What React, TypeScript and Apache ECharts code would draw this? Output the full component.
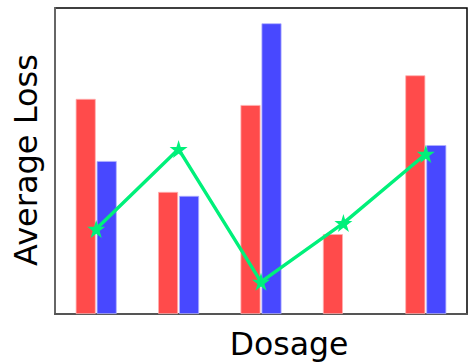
import React, { useEffect, useRef } from "react";
import * as echarts from "echarts";

const categories = ["A", "B", "C", "D", "E"];
const redValues = [70.3, 39.9, 68.3, 26.1, 78.0];
const blueValues: (number | null)[] = [50.0, 38.6, 95.0, null, 55.2];
const lineValues = [27.8, 53.9, 10.5, 29.7, 52.3];

const STAR = "path://M50,0 L61.2,34.5 L97.6,34.5 L68.2,55.9 L79.4,90.5 L50,69.1 L20.6,90.5 L31.8,55.9 L2.4,34.5 L38.8,34.5 Z";

export default function App() {
  const ref = useRef<HTMLDivElement>(null);
  useEffect(() => {
    const chart = echarts.init(ref.current!, undefined, { renderer: "svg" });
    chart.setOption({
      animation: false,
      backgroundColor: "#ffffff",
      grid: {
        left: 55,
        top: 8,
        width: 412,
        height: 306,
        show: true,
        borderColor: "#000",
        borderWidth: 1.5,
        backgroundColor: "transparent",
      },
      xAxis: {
        type: "category",
        data: categories,
        axisLine: { show: true, lineStyle: { color: "#555", width: 2 } },
        axisTick: { show: false },
        axisLabel: { show: false },
        splitLine: { show: false },
      },
      yAxis: {
        type: "value",
        min: 0,
        max: 100,
        axisLine: { show: true, lineStyle: { color: "#666", width: 2 } },
        axisTick: { show: false },
        axisLabel: { show: false },
        splitLine: { show: false },
      },
      graphic: [
        {
          type: "text",
          x: 289,
          y: 344,
          style: {
            text: "Dosage",
            font: "31.5px 'DejaVu Sans'",
            fill: "#000",
            textAlign: "center",
            textVerticalAlign: "middle",
          },
        },
        {
          type: "text",
          x: 26,
          y: 160,
          rotation: Math.PI / 2,
          style: {
            text: "Average Loss",
            font: "32px 'DejaVu Sans'",
            fill: "#000",
            textAlign: "center",
            textVerticalAlign: "middle",
          },
        },
      ],
      series: [
        {
          type: "bar",
          data: redValues,
          barWidth: 20,
          barGap: "5%",
          itemStyle: { color: "#ff4b4b", borderColor: "#ffb0b0", borderWidth: 0.8 },
        },
        {
          type: "bar",
          data: blueValues,
          barWidth: 20,
          barGap: "5%",
          itemStyle: { color: "#4848ff", borderColor: "#b0b0ff", borderWidth: 0.8 },
        },
        {
          type: "line",
          data: lineValues,
          z: 5,
          symbol: STAR,
          symbolSize: 18,
          lineStyle: { color: "#00f07a", width: 3.4 },
          itemStyle: { color: "#00f07a" },
        },
      ],
    });
    return () => chart.dispose();
  }, []);
  return (
    <div
      ref={ref}
      style={{ position: "fixed", left: 0, top: 0, width: 475, height: 363 }}
    />
  );
}
